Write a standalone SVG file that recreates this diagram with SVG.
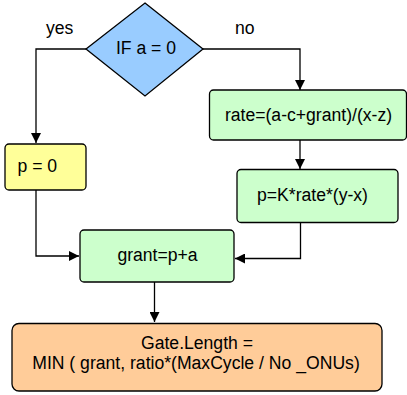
<svg xmlns="http://www.w3.org/2000/svg" width="407" height="395" viewBox="0 0 407 395">
<style>
text{font-family:"Liberation Sans",Arial,sans-serif;font-size:17.6px;fill:#000}
.box{stroke:#000;stroke-width:1.3}
.conn{fill:none;stroke:#000;stroke-width:1.3}
</style>
<defs>
<marker id="ah" viewBox="0 0 10 10" refX="10" refY="5" markerWidth="10" markerHeight="10" markerUnits="userSpaceOnUse" orient="auto">
<path d="M0,0 L10,5 L0,10 Z" fill="#000"/>
</marker>
</defs>
<rect width="407" height="395" fill="#fff"/>
<g id="connectors">
<polyline class="conn" points="86,49 36,49 36,143" marker-end="url(#ah)"/>
<polyline class="conn" points="203,49 300,49 300,90" marker-end="url(#ah)"/>
<polyline class="conn" points="300,140 300,169" marker-end="url(#ah)"/>
<polyline class="conn" points="36,190 36,256 79,256" marker-end="url(#ah)"/>
<polyline class="conn" points="300.5,223 300.5,258.5 235,258.5" marker-end="url(#ah)"/>
<polyline class="conn" points="154.5,282 154.5,322" marker-end="url(#ah)"/>
<text x="46" y="34">yes</text>
<text x="235" y="34">no</text>
</g>
<g id="decision">
<polygon class="box" points="145,3 203,49 145,96 86,49" fill="#99CCFF"/>
<text x="146" y="54" text-anchor="middle">IF a = 0</text>
</g>
<g id="p0">
<rect class="box" x="5" y="144" width="81" height="46" rx="4" fill="#FFFF99"/>
<text x="17.5" y="171.5">p = 0</text>
</g>
<g id="rate">
<rect class="box" x="209.5" y="90" width="197" height="50" rx="4" fill="#CCFFCC"/>
<text x="308.5" y="120.5" text-anchor="middle">rate=(a-c+grant)/(x-z)</text>
</g>
<g id="pk">
<rect class="box" x="237" y="169.5" width="161" height="53" rx="4" fill="#CCFFCC"/>
<text x="312.5" y="201" text-anchor="middle">p=K*rate*(y-x)</text>
</g>
<g id="grant">
<rect class="box" x="80" y="230" width="154" height="52" rx="4" fill="#CCFFCC"/>
<text x="157.5" y="261" text-anchor="middle">grant=p+a</text>
</g>
<g id="gate">
<rect class="box" x="12" y="323.5" width="370" height="67.5" rx="7" fill="#FFCC99"/>
<text x="197" y="349" text-anchor="middle">Gate.Length =</text>
<text x="196" y="369" text-anchor="middle">MIN ( grant, ratio*(MaxCycle / No _ONUs)</text>
</g>
</svg>
